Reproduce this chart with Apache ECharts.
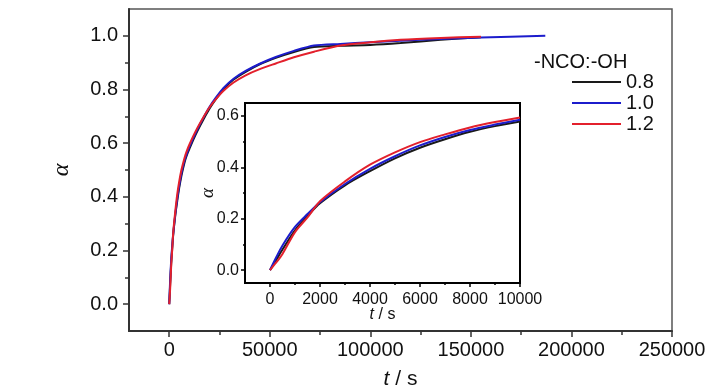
<!DOCTYPE html>
<html>
<head>
<meta charset="utf-8">
<script src="https://cdn.jsdelivr.net/npm/echarts@6/dist/echarts.min.js"></script>
<style>html,body{margin:0;padding:0;background:#fff}#c{width:728px;height:390px}</style>
</head>
<body>
<div id="c"></div>
<script>
// ---- data ----
const seriesNames = ['0.8', '1.0', '1.2'];
const legendTitle = '-NCO:-OH';
const timeBlack = [0,250,500,1000,1500,2000,3000,4000,5000,6000,7000,8000,9000,10000,12000,14000,17000,20000,23000,27000,32000,38000,45000,53000,62000,72000,85000,100000,115000,135000,155000];
const alphaBlack = [0,0.04,0.08,0.155,0.21,0.26,0.33,0.385,0.435,0.476,0.509,0.538,0.56,0.578,0.613,0.645,0.688,0.728,0.762,0.801,0.837,0.866,0.894,0.918,0.94,0.958,0.963,0.966,0.973,0.985,0.995];
const timeBlue = [0,250,500,1000,1500,2000,3000,4000,5000,6000,7000,8000,9000,10000,12000,14000,17000,20000,23000,27000,32000,38000,45000,53000,62000,72000,85000,100000,115000,135000,155000,187000];
const alphaBlue = [0,0.05,0.096,0.168,0.218,0.264,0.335,0.394,0.443,0.485,0.518,0.545,0.566,0.585,0.62,0.652,0.695,0.735,0.768,0.806,0.84,0.869,0.896,0.921,0.944,0.964,0.970,0.976,0.982,0.988,0.994,1.0];
const timeRed = [0,250,500,1000,1500,2000,3000,4000,5000,6000,7000,8000,9000,10000,12000,14000,17000,20000,23000,27000,32000,38000,45000,53000,62000,72000,85000,100000,115000,135000,155000];
const alphaRed = [0,0.03,0.063,0.148,0.205,0.268,0.345,0.41,0.458,0.498,0.528,0.555,0.576,0.594,0.627,0.657,0.697,0.733,0.762,0.795,0.826,0.853,0.876,0.897,0.92,0.941,0.964,0.976,0.985,0.992,0.997];

const mainXTicks = [0,50000,100000,150000,200000,250000];
const mainXMinor = [25000,75000,125000,175000,225000];
const mainYTicks = [0,0.2,0.4,0.6,0.8,1.0];
const mainYMinor = [0.1,0.3,0.5,0.7,0.9];
const insetXTicks = [0,2000,4000,6000,8000,10000];
const insetXMinor = [1000,3000,5000,7000,9000];
const insetYTicks = [0,0.2,0.4,0.6];
const insetYMinor = [0.1,0.3,0.5];
const insetTimeMax = 10000;

// ---- chart ----
const FONT = '"Liberation Sans", Arial, sans-serif';
const SERIF = '"Liberation Serif", serif';
const colors = ['#1a1a1a', '#1c1ccc', '#e3202c'];
const times = [timeBlack, timeBlue, timeRed];
const alphas = [alphaBlack, alphaBlue, alphaRed];

function pairs(t, a, tmax) {
  const out = [];
  for (let i = 0; i < t.length; i++) {
    if (tmax === undefined || t[i] <= tmax) out.push([t[i], a[i]]);
  }
  return out;
}

function majorAxis(opts) {
  return Object.assign({
    type: 'value',
    splitLine: { show: false },
    nameMoveOverlap: false,
    axisLine: { show: true, onZero: false, lineStyle: { color: opts.lineColor, width: 2 } },
    axisTick: { show: true, customValues: opts.ticks, length: opts.tickLen, lineStyle: { color: opts.lineColor, width: 1.5 } },
    axisLabel: { customValues: opts.ticks, fontSize: opts.fontSize, fontFamily: FONT, color: '#111', margin: opts.margin, formatter: opts.fmt },
  }, opts.extra);
}
function minorAxis(opts) {
  return Object.assign({
    type: 'value',
    splitLine: { show: false },
    axisLine: { show: false, onZero: false },
    axisTick: { show: true, customValues: opts.ticks, length: opts.tickLen, lineStyle: { color: opts.lineColor, width: 1.5 } },
    axisLabel: { show: false },
  }, opts.extra);
}

const intFmt = v => String(Math.round(v));
const decFmt = v => v.toFixed(1);

const series = [];
for (let k = 0; k < 3; k++) {
  series.push({
    name: seriesNames[k], type: 'line', xAxisIndex: 0, yAxisIndex: 0,
    data: pairs(times[k], alphas[k]), showSymbol: false, symbol: 'none',
    smooth: 0.25, lineStyle: { color: colors[k], width: 2 }, itemStyle: { color: colors[k] }
  });
}
for (let k = 0; k < 3; k++) {
  series.push({
    name: seriesNames[k], type: 'line', xAxisIndex: 2, yAxisIndex: 2,
    data: pairs(times[k], alphas[k], insetTimeMax), showSymbol: false, symbol: 'none',
    smooth: 0.3, lineStyle: { color: colors[k], width: 2 }, itemStyle: { color: colors[k] }, z: 5
  });
}

const option = {
  animation: false,
  backgroundColor: '#fff',
  grid: [
    { left: 129, right: 56, top: 9, bottom: 59, outerBoundsMode: 'none', containLabel: false, show: true, borderColor: '#555', borderWidth: 1.5, backgroundColor: 'transparent' },
    { left: 245, top: 103, width: 275, height: 180, outerBoundsMode: 'none', containLabel: false, show: true, borderColor: '#000', borderWidth: 2, backgroundColor: '#fff' }
  ],
  xAxis: [
    majorAxis({ ticks: mainXTicks, lineColor: '#333', tickLen: 6, fontSize: 20, margin: 9, fmt: intFmt,
      extra: { gridIndex: 0, position: 'bottom', min: -20000, max: 250000,
        name: '{i|t} / s', nameLocation: 'middle', nameGap: 38,
        nameTextStyle: { fontSize: 21, fontFamily: FONT, color: '#111', rich: { i: { fontSize: 21, fontStyle: 'italic', fontFamily: FONT, color: '#111' } } } } }),
    minorAxis({ ticks: mainXMinor, lineColor: '#333', tickLen: 4,
      extra: { gridIndex: 0, position: 'bottom', min: -20000, max: 250000 } }),
    majorAxis({ ticks: insetXTicks, lineColor: '#000', tickLen: 4, fontSize: 16, margin: 9, fmt: intFmt,
      extra: { gridIndex: 1, position: 'bottom', min: -1000, max: 10000,
        name: '{i|t} / s', nameLocation: 'middle', nameGap: 24,
        nameTextStyle: { fontSize: 16, fontFamily: FONT, color: '#111', rich: { i: { fontSize: 16, fontStyle: 'italic', fontFamily: FONT, color: '#111' } } } } }),
    minorAxis({ ticks: insetXMinor, lineColor: '#000', tickLen: 2,
      extra: { gridIndex: 1, position: 'bottom', min: -1000, max: 10000 } })
  ],
  yAxis: [
    majorAxis({ ticks: mainYTicks, lineColor: '#333', tickLen: 6, fontSize: 20, margin: 11, fmt: decFmt,
      extra: { gridIndex: 0, position: 'left', min: -0.1, max: 1.1,
        name: 'α', nameLocation: 'middle', nameGap: 55, nameRotate: 90,
        nameTextStyle: { fontSize: 24, fontStyle: 'italic', fontFamily: SERIF, color: '#111' } } }),
    minorAxis({ ticks: mainYMinor, lineColor: '#333', tickLen: 4,
      extra: { gridIndex: 0, position: 'left', min: -0.1, max: 1.1 } }),
    majorAxis({ ticks: insetYTicks, lineColor: '#000', tickLen: 4, fontSize: 16, margin: 6, fmt: decFmt,
      extra: { gridIndex: 1, position: 'left', min: -0.05, max: 0.65,
        name: 'α', nameLocation: 'middle', nameGap: 28, nameRotate: 90,
        nameTextStyle: { fontSize: 19, fontStyle: 'italic', fontFamily: SERIF, color: '#111' } } }),
    minorAxis({ ticks: insetYMinor, lineColor: '#000', tickLen: 2,
      extra: { gridIndex: 1, position: 'left', min: -0.05, max: 0.65 } })
  ],
  legend: {
    orient: 'vertical', left: 567, top: 67, itemWidth: 49, itemHeight: 2, itemGap: 1,
    icon: 'rect', data: seriesNames,
    textStyle: { fontSize: 20, fontFamily: FONT, color: '#111' }
  },
  graphic: [
    { type: 'text', left: 534, top: 52, style: { text: legendTitle, fontSize: 20, fontFamily: FONT, fill: '#111' } }
  ],
  series: series
};

const chart = echarts.init(document.getElementById('c'), null, { renderer: 'canvas' });
chart.setOption(option);
</script>
</body>
</html>
